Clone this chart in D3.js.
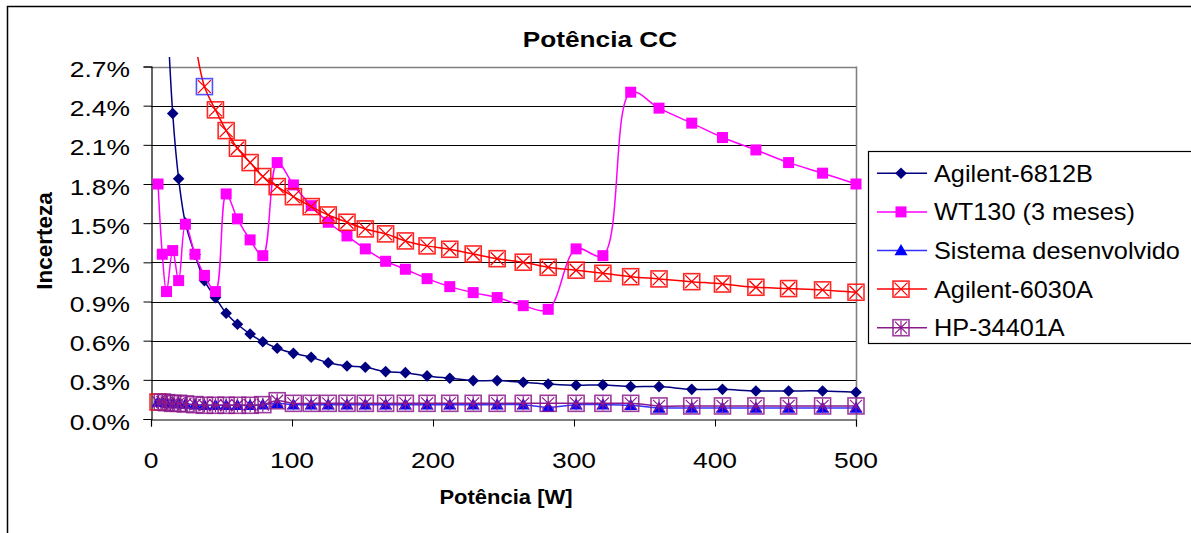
<!DOCTYPE html>
<html><head><meta charset="utf-8">
<script src="https://cdn.jsdelivr.net/npm/d3@7"></script>
<style>
body{margin:0;background:#fff}
svg{display:block}
text{font-family:"Liberation Sans",Arial,Helvetica,sans-serif;fill:#000}
</style>
</head><body>
<svg id="c" width="1191" height="533"></svg>
<script>
// ---------- data ----------
const power = [5,8,11,15.4,19.6,24.4,31.2,37.9,45.7,53.3,61.3,70.3,79.3,89.5,101,113.6,125.7,139,152,166.4,180.4,195.8,211.9,228.5,245.5,264,281.7,301.5,320.5,340.2,360.3,383.5,405.3,429,452.2,476.3,500];
const agilent6812B = [7.2,4.6,3.3,2.34,1.84,1.50,1.26,1.06,0.93,0.81,0.726,0.651,0.592,0.542,0.503,0.473,0.431,0.406,0.396,0.363,0.355,0.330,0.312,0.294,0.294,0.281,0.268,0.258,0.261,0.248,0.248,0.227,0.227,0.215,0.215,0.215,0.205];
const wt130 = [1.80,1.262,0.976,1.29,1.06,1.492,1.262,1.10,0.976,1.724,1.533,1.372,1.251,1.964,1.793,1.634,1.507,1.402,1.303,1.208,1.147,1.075,1.014,0.968,0.930,0.868,0.840,1.303,1.251,2.503,2.381,2.266,2.156,2.061,1.964,1.883,1.80];
const sistema = [0.13,0.13,0.12,0.12,0.12,0.115,0.11,0.105,0.105,0.105,0.105,0.105,0.11,0.12,0.11,0.11,0.11,0.11,0.11,0.11,0.11,0.11,0.11,0.11,0.11,0.11,0.09,0.11,0.11,0.105,0.085,0.085,0.085,0.085,0.085,0.085,0.085];
const agilent6030A = [null,null,null,null,null,null,2.9,2.546,2.368,2.209,2.074,1.964,1.857,1.78,1.703,1.627,1.563,1.507,1.456,1.418,1.364,1.326,1.300,1.264,1.228,1.201,1.162,1.14,1.116,1.090,1.073,1.052,1.034,1.009,0.999,0.989,0.971];
const hp34401A = [0.13,0.13,0.125,0.12,0.12,0.115,0.11,0.105,0.105,0.105,0.105,0.105,0.11,0.14,0.12,0.12,0.12,0.12,0.12,0.12,0.12,0.12,0.12,0.12,0.12,0.12,0.12,0.12,0.12,0.12,0.10,0.10,0.10,0.10,0.10,0.10,0.10];
const seriesNames = ["Agilent-6812B","WT130 (3 meses)","Sistema desenvolvido","Agilent-6030A","HP-34401A"];
const yTicks = [0,0.3,0.6,0.9,1.2,1.5,1.8,2.1,2.4,2.7];
const xTicks = [0,100,200,300,400,500];
const chartTitle = "Potência CC";
const xTitle = "Potência [W]";
const yTitle = "Incerteza";

// ---------- layout ----------
const svg = d3.select("#c");
const L = 151, R = 856, T = 66.5, B = 419;
const x = d3.scaleLinear().domain([0,500]).range([L,R]);
const y = d3.scaleLinear().domain([0,2.7]).range([B,T]);

// outer chart border (cropped on right/bottom)
svg.append("rect").attr("x",7.5).attr("y",6.5).attr("width",1200).attr("height",560)
  .attr("fill","#fff").attr("stroke","#000").attr("stroke-width",1.5);

// gridlines
svg.append("g").selectAll("line").data(yTicks.filter(d=>d>0)).join("line")
  .attr("x1",L).attr("x2",R)
  .attr("y1",d=>Math.round(y(d))+0.5).attr("y2",d=>Math.round(y(d))+0.5)
  .attr("stroke",d=>d===2.7?"#808080":"#000").attr("stroke-width",d=>d===2.7?1.6:1);
// right border of plot area
svg.append("line").attr("x1",R+0.5).attr("x2",R+0.5).attr("y1",y(2.7)).attr("y2",B)
  .attr("stroke","#808080").attr("stroke-width",1.6);

// axes
const yAxis = d3.axisLeft(y).tickValues(yTicks).tickSize(8).tickFormat("");
const gy = svg.append("g").attr("transform",`translate(${L+0.5},0)`).call(yAxis);
gy.select(".domain").attr("stroke","#000").attr("stroke-width",1.2);
gy.selectAll(".tick line").attr("stroke","#000");
const xAxis = d3.axisBottom(x).tickValues(xTicks).tickSize(7).tickFormat("");
const gx = svg.append("g").attr("transform",`translate(0,${B+0.5})`).call(xAxis);
gx.select(".domain").attr("stroke","#000").attr("stroke-width",1.2);
gx.selectAll(".tick line").attr("stroke","#000");

// tick labels (horizontally stretched like the source)
svg.append("g").selectAll("text").data(yTicks).join("text")
  .attr("transform",d=>`translate(130,${y(d)+10.5}) scale(1.2,1)`)
  .attr("text-anchor","end").attr("font-size",22)
  .text(d=>d.toFixed(1)+"%");
svg.append("g").selectAll("text").data(xTicks).join("text")
  .attr("transform",d=>`translate(${x(d)},468) scale(1.2,1)`)
  .attr("text-anchor","middle").attr("font-size",22)
  .text(d=>d);

// titles
svg.append("text").attr("transform","translate(600,47) scale(1.22,1)")
  .attr("text-anchor","middle").attr("font-size",21.5).attr("font-weight","bold").text(chartTitle);
svg.append("text").attr("transform","translate(506,504) scale(1.1,1)")
  .attr("text-anchor","middle").attr("font-size",20).attr("font-weight","bold").text(xTitle);
svg.append("text").attr("transform","translate(52,241) rotate(-90)")
  .attr("text-anchor","middle").attr("font-size",22.5).attr("font-weight","bold").text(yTitle);

// ---------- series ----------
svg.append("clipPath").attr("id","clip").append("rect")
  .attr("x",L-12).attr("y",57).attr("width",R-L+30).attr("height",B-57+20);
const plot = svg.append("g").attr("clip-path","url(#clip)");

const markers = {
  diamond:(g,c)=>g.append("path").attr("d","M0,-5.8L5.8,0L0,5.8L-5.8,0Z").attr("fill",c),
  square:(g,c)=>g.append("rect").attr("x",-5.5).attr("y",-5.5).attr("width",11).attr("height",11).attr("fill",c),
  triangle:(g,c)=>g.append("path").attr("d","M0,-6.5L6.5,4.8L-6.5,4.8Z").attr("fill",c),
  xbox:(g,c,b)=>{
    g.append("rect").attr("x",-8).attr("y",-8).attr("width",16).attr("height",16)
      .attr("fill","none").attr("stroke",b||c).attr("stroke-width",1.6).attr("stroke-opacity",0.85);
    g.append("path").attr("d","M-6.5,-6.5L6.5,6.5M-6.5,6.5L6.5,-6.5").attr("stroke",c).attr("stroke-width",1.3);
  },
  starbox:(g,c,b)=>{
    g.append("rect").attr("x",-8).attr("y",-8).attr("width",16).attr("height",16)
      .attr("fill","none").attr("stroke",b||c).attr("stroke-width",1.6).attr("stroke-opacity",0.85);
    g.append("path").attr("d","M-6,-6L6,6M-6,6L6,-6M0,-7L0,7").attr("stroke",c).attr("stroke-width",1.2);
  }
};

const series = [
  {name:seriesNames[0], vals:agilent6812B, line:"#000080", mk:"diamond", mc:"#000080"},
  {name:seriesNames[1], vals:wt130, line:"#FF00FF", mk:"square", mc:"#FF00FF"},
  {name:seriesNames[2], vals:sistema, line:"#3333FF", mk:"triangle", mc:"#0000FF"},
  {name:seriesNames[3], vals:agilent6030A, line:"#FF0000", mk:"xbox", mc:"#FF0000", special:{i:7,b:"#3333FF"}},
  {name:seriesNames[4], vals:hp34401A, line:"#8B1A8B", mk:"starbox", mc:"#8B1A8B", special:{i:0,b:"#FF0000"}}
];

const lineGen = d3.line().defined(d=>d.v!=null).x(d=>x(d.p)).y(d=>y(d.v))
  .curve(d3.curveCatmullRom.alpha(0.5));

series.forEach(s=>{
  const pts = power.map((p,i)=>({p, v:s.vals[i], i}));
  plot.append("path").datum(pts).attr("d",lineGen).attr("fill","none")
    .attr("stroke",s.line).attr("stroke-width",1.5);
  pts.filter(d=>d.v!=null).forEach(d=>{
    const g = plot.append("g").attr("transform",`translate(${x(d.p)},${y(d.v)})`);
    const b = (s.special && s.special.i===d.i) ? s.special.b : null;
    markers[s.mk](g,s.mc,b);
  });
});

// ---------- legend ----------
const lg = svg.append("g");
lg.append("rect").attr("x",868.5).attr("y",151.5).attr("width",400).attr("height",192)
  .attr("fill","#fff").attr("stroke","#000").attr("stroke-width",1.2);
const rowY = d3.scalePoint().domain(seriesNames).range([173.3,327.7]);
series.forEach(s=>{
  const cy = rowY(s.name);
  lg.append("line").attr("x1",877).attr("x2",927).attr("y1",cy).attr("y2",cy)
    .attr("stroke",s.line).attr("stroke-width",1.5);
  const g = lg.append("g").attr("transform",`translate(901,${cy})`);
  markers[s.mk](g,s.mc);
  lg.append("text").attr("transform",`translate(934,${cy+8.4}) scale(1.1,1)`)
    .attr("font-size",23).text(s.name);
});
</script>
</body></html>
